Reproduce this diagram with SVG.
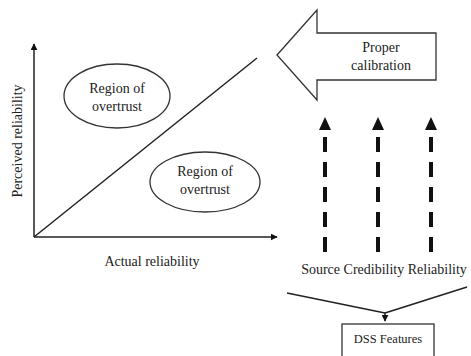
<svg xmlns="http://www.w3.org/2000/svg" width="471" height="356" viewBox="0 0 471 356" font-family="'Liberation Serif', 'DejaVu Serif', 'Times New Roman', serif">
<style>
text{font-family:'Liberation Serif','DejaVu Serif','Times New Roman',serif;fill:#222;text-anchor:middle}
.t{font-size:14px}
.s{font-size:12.5px}
.ln{stroke:#222;stroke-width:1.5;fill:none}
.sh{stroke:#333;stroke-width:1.3;fill:#fff}
.dash{stroke:#111;stroke-width:4;stroke-dasharray:15 10;fill:none}
</style>
<defs>
<marker id="ah" viewBox="0 0 10 10" refX="9" refY="5" markerWidth="7" markerHeight="7" markerUnits="userSpaceOnUse" orient="auto"><path d="M0,0 L10,5 L0,10 z" fill="#111"/></marker>
</defs>
<g id="axes">
<line class="ln" x1="34" y1="237" x2="34" y2="44" marker-end="url(#ah)"/>
<line class="ln" x1="34" y1="237" x2="277" y2="237" marker-end="url(#ah)"/>
<line class="ln" x1="34" y1="237" x2="257" y2="58"/>
<text class="t" transform="translate(22,141) rotate(-90)">Perceived reliability</text>
<text class="t" x="152" y="266">Actual reliability</text>
</g>
<g id="region1">
<ellipse class="sh" cx="117" cy="96" rx="53" ry="32"/>
<text class="t" x="117" y="93">Region of</text>
<text class="t" x="117" y="111">overtrust</text>
</g>
<g id="region2">
<ellipse class="sh" cx="205" cy="182" rx="55" ry="30"/>
<text class="t" x="205" y="176">Region of</text>
<text class="t" x="205" y="194">overtrust</text>
</g>
<g id="calibration">
<path class="sh" d="M277,55 L317,10 L317,33 L436,33 L436,80 L317,80 L317,100 Z"/>
<text class="t" x="381" y="52">Proper</text>
<text class="t" x="381" y="70">calibration</text>
</g>
<g id="connectors">
<line class="dash" x1="325" y1="252" x2="325" y2="130"/>
<line class="dash" x1="378" y1="252" x2="378" y2="130"/>
<line class="dash" x1="431" y1="252" x2="431" y2="130"/>
<path d="M319,130 L325,117 L331,130 Z" fill="#111"/>
<path d="M372,130 L378,117 L384,130 Z" fill="#111"/>
<path d="M425,130 L431,117 L437,130 Z" fill="#111"/>
<line class="ln" x1="287" y1="293" x2="385" y2="313"/>
<line class="ln" x1="467" y1="287" x2="385" y2="313"/>
<line class="ln" x1="385" y1="313" x2="385" y2="321" marker-end="url(#ah)"/>
</g>
<g id="features">
<text class="t" x="384" y="274">Source Credibility Reliability</text>
</g>
<g id="dss">
<rect class="sh" x="342" y="324" width="92" height="40"/>
<text class="s" x="388" y="343">DSS Features</text>
</g>
</svg>
